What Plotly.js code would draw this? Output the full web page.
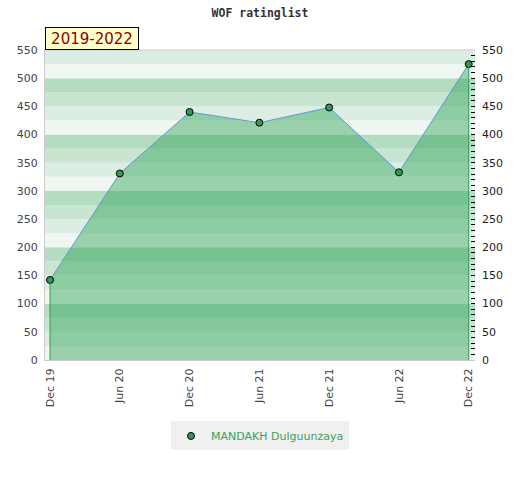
<!DOCTYPE html>
<html><head><meta charset="utf-8">
<script src="https://cdn.plot.ly/plotly-3.0.1.min.js"></script>
<style>html,body{margin:0;padding:0;background:#fff}#c{width:520px;height:480px}</style>
</head><body><div id="c"></div>
<script>
const categories = ["Dec 19","Jun 20","Dec 20","Jun 21","Dec 21","Jun 22","Dec 22"];
const ratings = [142, 331, 440, 421, 448, 333, 525];
const playerName = "MANDAKH Dulguunzaya";
const periodLabel = "2019-2022";
const chartTitle = "WOF ratinglist";
const yTicks = [0,50,100,150,200,250,300,350,400,450,500,550];

const stripeColors = ["#f0f7f2","#dcede3","#c8e5d2","#b3dcc1"];
const shapes = [];
for (let k = 0; k < 22; k++) {
  shapes.push({type:"rect", layer:"below", xref:"paper", yref:"y", x0:0, x1:1,
    y0:k*25, y1:(k+1)*25, fillcolor:stripeColors[k%4], line:{width:0}});
}
// fill edges
const n = categories.length;
[0, n-1].forEach(i => shapes.push({type:"line", xref:"x", yref:"y",
  x0:categories[i], x1:categories[i], y0:0, y1:ratings[i], line:{color:"#2e9b55", width:1}}));

const traces = [
  {x:categories, y:ratings, type:"scatter", mode:"lines", fill:"tozeroy",
   fillcolor:"rgba(44,161,82,0.44)", line:{color:"rgba(0,0,0,0)", width:0}, showlegend:false, hoverinfo:"skip"},
  {x:categories, y:ratings, type:"scatter", mode:"lines",
   line:{color:"#5b9bd5", width:1}, showlegend:false},
  {x:categories, y:ratings, type:"scatter", mode:"markers", name:playerName,
   marker:{color:"#2e9b55", size:7, line:{color:"#000", width:1}}},
  {x:categories, y:ratings, yaxis:"y2", type:"scatter", mode:"markers",
   marker:{opacity:0}, showlegend:false, hoverinfo:"skip"}
];

const layout = {
  width:520, height:480,
  margin:{l:45, r:45, t:50, b:120},
  paper_bgcolor:"#fff", plot_bgcolor:"#fff",
  title:{text:chartTitle, x:0.5, xanchor:"center", y:1-13/480, yanchor:"middle", yref:"container",
    font:{family:"DejaVu Sans Mono", size:11.5, color:"#333", weight:"bold"}},
  xaxis:{type:"category", range:[-0.072, 6.09], tickangle:-90, showgrid:false, zeroline:false,
    showline:true, linecolor:"#ccc", linewidth:1, ticks:"", fixedrange:true, ticklabelstandoff:3,
    tickfont:{family:"DejaVu Sans", size:11, color:"#444"}},
  yaxis:{range:[0,550], tickvals:yTicks, showgrid:false, zeroline:false,
    showline:true, linecolor:"#ccc", linewidth:1, ticks:"", ticklabelstandoff:4,
    tickfont:{family:"DejaVu Sans", size:11, color:"#444"}},
  yaxis2:{range:[0,550], overlaying:"y", side:"right", tickvals:yTicks, showgrid:false, zeroline:false,
    showline:false, ticks:"inside", ticklen:4, tickcolor:"#000", ticklabelstandoff:6,
    minor:{dtick:10, ticks:"inside", ticklen:4, tickcolor:"#000", showgrid:false},
    tickfont:{family:"DejaVu Sans", size:11, color:"#222"}},
  shapes: shapes.concat([{type:"line", xref:"paper", yref:"paper", x0:0, x1:1, y0:1, y1:1, line:{color:"#ccc", width:1}}]),
  annotations:[{text:periodLabel, xref:"paper", yref:"paper", x:0, y:1, xanchor:"left", yanchor:"bottom",
    showarrow:false, bgcolor:"#ffffcc", bordercolor:"#000", borderwidth:1, borderpad:2,
    width:88, height:17, align:"center",
    font:{family:"DejaVu Sans", size:15, color:"#8b0000"}}],
  legend:{orientation:"h", x:0.5, xanchor:"center", y:-0.245, yanchor:"middle", itemwidth:30,
    bgcolor:"#f0f0f0", font:{family:"DejaVu Sans", size:11, color:"#3a9f5a"}},
  showlegend:true
};
Plotly.newPlot("c", traces, layout, {staticPlot:true, displayModeBar:false});
</script></body></html>
